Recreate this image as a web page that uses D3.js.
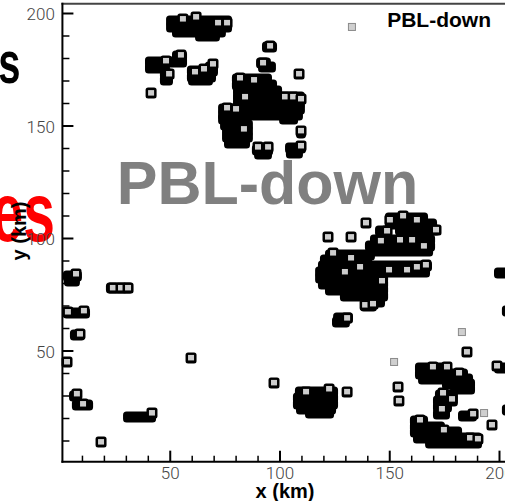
<!DOCTYPE html>
<html>
<head>
<meta charset="utf-8">
<script src="https://cdn.jsdelivr.net/npm/d3@7"></script>
<style>
  html, body { margin: 0; padding: 0; background: #fff; overflow: hidden; }
  svg { display: block; }
</style>
</head>
<body>
<svg id="chart" width="505" height="501"></svg>
<script>
// ---- data (km) -------------------------------------------------------
// Tick values
const xMajorTicks = [50, 100, 150, 200];
const yMajorTicks = [50, 100, 150, 200];
const minorTicks = [10, 20, 30, 40, 60, 70, 80, 90, 110, 120, 130, 140, 160, 170, 180, 190];

// Extent of the plotted domain box (km)
const frameX = [1.1, 206];
const frameY = [0.6, 204.1];

// Cloud-covered area, stored as horizontal runs: [y, xStart, xEnd]
const cloudSpans = [
  // north cluster near y = 195
  [196.4, 50.6, 76.1], [193.8, 50.6, 76.1], [191.6, 53.3, 73.3], [189.8, 63.8, 70.6],
  [180.9, 53.3, 55.6], [178.2, 41.0, 55.6], [175.6, 41.0, 47.8], [172.9, 47.8, 49.2], [170.2, 47.8, 49.2],
  [176.0, 68.3, 69.7], [174.2, 60.1, 69.7], [171.6, 60.1, 68.8], [170.2, 60.6, 67.4],
  [184.9, 94.3, 96.6], [177.8, 91.6, 93.8], [176.0, 92.5, 96.1],
  // central-north cluster
  [170.7, 80.6, 94.3], [168.0, 80.6, 96.6], [165.3, 81.1, 98.9],
  [162.7, 81.1, 109.3], [160.0, 81.1, 109.3], [157.3, 74.3, 109.3], [154.7, 74.3, 108.4],
  [152.9, 74.3, 84.3], [152.9, 102.1, 106.2],
  [150.2, 75.2, 85.6], [147.6, 76.1, 85.6], [144.9, 76.1, 85.6], [142.2, 77.0, 84.3],
  [139.1, 89.7, 94.8], [137.3, 90.7, 94.3],
  [146.7, 109.8, 109.8], [140.0, 104.8, 109.8], [137.8, 105.2, 108.4],
  // eastern cluster near y = 90
  [108.9, 150.3, 165.4], [106.2, 150.3, 169.5], [103.6, 154.9, 170.8],
  [103.1, 145.8, 149.0], [99.1, 143.5, 168.6], [96.4, 141.2, 168.6], [94.2, 142.6, 167.7],
  [92.4, 123.0, 141.2], [90.2, 120.7, 139.9],
  [87.6, 119.8, 167.2], [84.9, 118.5, 166.3], [82.2, 118.5, 147.2], [79.6, 119.8, 147.2],
  [76.9, 123.0, 147.2], [74.2, 129.8, 147.2], [71.6, 139.0, 145.8], [69.8, 139.0, 142.1],
  [64.4, 126.7, 131.2], [62.7, 126.2, 129.8],
  [84.4, 200.0, 202.7], [67.6, 203.6, 203.6],
  // south-east cluster
  [42.2, 164.0, 176.3], [39.6, 164.0, 183.6], [37.3, 165.4, 185.9], [35.1, 176.3, 186.8], [32.9, 180.0, 186.8],
  [42.2, 200.0, 202.7],
  [30.2, 173.1, 179.0], [27.6, 172.2, 179.0], [24.9, 172.2, 176.3], [21.8, 172.2, 175.4],
  [20.9, 183.6, 187.7], [23.6, 203.6, 203.6],
  [18.7, 161.7, 165.4], [16.0, 161.7, 173.1], [13.8, 161.7, 180.9], [11.1, 163.1, 190.0], [8.9, 168.6, 190.0],
  // southern cell near x = 115
  [31.6, 109.3, 124.4], [28.9, 108.4, 124.4], [26.2, 108.4, 124.4], [24.0, 109.8, 123.5], [22.2, 113.9, 122.6],
  // western edge
  [83.1, 3.6, 7.7], [80.9, 4.1, 6.8],
  [77.8, 23.2, 31.0],
  [66.7, 3.6, 11.4],
  [56.9, 6.8, 9.1],
  [29.8, 6.4, 7.7], [25.8, 7.7, 12.8],
  [20.4, 31.0, 41.5]
];

// Tracked cell centres (x, y in km)
const cellCentres = [
  [56.0, 197.3], [62.0, 198.2], [72.0, 195.6], [76.1, 195.6],
  [48.3, 178.7], [55.1, 181.3], [49.7, 172.9],
  [41.5, 164.4],
  [61.5, 173.8], [65.6, 175.1], [69.7, 177.3],
  [95.7, 185.3], [92.5, 177.8], [108.9, 172.9],
  [82.0, 171.1], [88.4, 170.2], [84.3, 162.7], [102.5, 162.7], [106.2, 162.7], [109.8, 161.8],
  [76.1, 157.8], [80.2, 157.3], [83.8, 148.4], [90.2, 140.4], [94.8, 140.4], [109.8, 147.6], [109.8, 140.9],
  [150.3, 108.0], [156.3, 109.8], [162.6, 108.0], [171.3, 103.6],
  [149.0, 103.1], [146.2, 98.7], [154.9, 99.1], [160.4, 99.1], [165.8, 96.4],
  [124.4, 93.3], [132.6, 91.1], [129.8, 84.9], [136.7, 87.1],
  [149.9, 85.8], [158.1, 85.8], [162.6, 87.1], [166.7, 88.0],
  [146.7, 80.9], [139.0, 70.2], [142.6, 70.7], [130.8, 64.4],
  [139.4, 106.7], [122.1, 100.4], [132.6, 100.4],
  [185.4, 49.3], [130.8, 31.6], [154.0, 33.8], [154.4, 27.6],
  [169.9, 42.7], [176.3, 42.7], [181.8, 40.0], [199.1, 43.1],
  [174.5, 31.1], [178.6, 28.4], [174.0, 24.0], [188.2, 21.8], [196.8, 16.9],
  [164.0, 19.1], [174.9, 14.7], [186.8, 11.1], [190.4, 10.7],
  [112.1, 31.6], [122.6, 32.9], [59.7, 46.7], [97.5, 35.6],
  [7.3, 84.0], [24.1, 77.8], [27.8, 77.8], [31.0, 77.8],
  [3.6, 67.1], [10.9, 67.6], [9.1, 57.3], [3.2, 44.9],
  [7.7, 30.7], [10.5, 26.2], [41.9, 22.2], [18.7, 9.3]
];

// Newly triggered cells (drawn pale)
const newCells = [[183.1, 58.2], [152.2, 44.9], [193.2, 22.2], [133.0, 193.8]];

// ---- scales ----------------------------------------------------------
const svg = d3.select("#chart");
const x = d3.scaleLinear().domain([0, 200]).range([60, 499]);
const y = d3.scaleLinear().domain([0, 200]).range([463, 13]);

const labelFont = "Roboto, 'Liberation Sans', Arial, sans-serif";
const boldFont = "'Liberation Sans', Arial, Helvetica, sans-serif";

svg.append("rect").attr("width", 505).attr("height", 501).attr("fill", "#fff");

// slide text running behind the figure
svg.append("text")
  .attr("transform", "translate(20.5,83) scale(1,1.5)")
  .attr("text-anchor", "end")
  .attr("font-family", boldFont).attr("font-weight", 700).attr("font-size", 40)
  .attr("fill", "#000").text("s");
svg.append("text")
  .attr("transform", "translate(55,241) scale(1,1.46)")
  .attr("text-anchor", "end")
  .attr("font-family", boldFont).attr("font-weight", 700).attr("font-size", 57)
  .attr("fill", "#ff0000").text("es");

// ---- cloud area ------------------------------------------------------
const plot = svg.append("g");
plot.selectAll("rect.span")
  .data(cloudSpans)
  .join("rect")
  .attr("class", "span")
  .attr("x", d => x(d[1]) - 5)
  .attr("width", d => x(d[2]) - x(d[1]) + 10)
  .attr("y", d => y(d[0]) - 5.5)
  .attr("height", 11)
  .attr("rx", 3.5)
  .attr("fill", "#000");

// tracked cells: black square with a grey core
const cells = plot.selectAll("g.cell")
  .data(cellCentres)
  .join("g")
  .attr("class", "cell")
  .attr("transform", d => `translate(${x(d[0])},${y(d[1])})`);
cells.append("rect")
  .attr("x", -5.5).attr("y", -5.5).attr("width", 11).attr("height", 11)
  .attr("rx", 2.5).attr("fill", "#000");
cells.append("rect")
  .attr("x", -3).attr("y", -3).attr("width", 6).attr("height", 5.5)
  .attr("fill", "#cdcdcd");

plot.selectAll("rect.new")
  .data(newCells)
  .join("rect")
  .attr("class", "new")
  .attr("x", d => x(d[0]) - 3.5)
  .attr("y", d => y(d[1]) - 3.5)
  .attr("width", 7).attr("height", 7)
  .attr("fill", "#cfcfcf")
  .attr("stroke", "#8a8a8a").attr("stroke-width", 1);

// ---- frame & axes ----------------------------------------------------
const fx0 = x(frameX[0]), fx1 = x(frameX[1]);
const fy0 = y(frameY[0]), fy1 = y(frameY[1]);

svg.append("line").attr("x1", fx0 - 1).attr("x2", fx1).attr("y1", fy1).attr("y2", fy1)
  .attr("stroke", "#444").attr("stroke-width", 2);

const yAxis = svg.append("g").attr("transform", `translate(${fx0},0)`)
  .call(d3.axisLeft(y).tickValues(yMajorTicks).tickSize(-11).tickPadding(7.5).tickSizeOuter(0));
const yMinor = svg.append("g").attr("transform", `translate(${fx0},0)`)
  .call(d3.axisLeft(y).tickValues(minorTicks).tickSize(-7).tickFormat("").tickSizeOuter(0));
const xAxis = svg.append("g").attr("transform", `translate(0,${fy0})`)
  .call(d3.axisBottom(x).tickValues(xMajorTicks).tickSize(-11).tickPadding(5.3).tickSizeOuter(0));
const xMinor = svg.append("g").attr("transform", `translate(0,${fy0})`)
  .call(d3.axisBottom(x).tickValues(minorTicks).tickSize(-6).tickFormat("").tickSizeOuter(0));

[yAxis, yMinor, xAxis, xMinor].forEach(g => {
  g.select(".domain").remove();
  g.selectAll(".tick line").attr("stroke", "#000");
});
[yAxis, xAxis].forEach(g => g.selectAll(".tick line").attr("stroke-width", 2));
[yMinor, xMinor].forEach(g => g.selectAll(".tick line").attr("stroke-width", 1.5));
[yAxis, xAxis].forEach(g => g.selectAll(".tick text")
  .attr("font-family", labelFont).attr("font-weight", 300)
  .attr("font-size", 17).attr("fill", "#444"));
yAxis.selectAll(".tick text").attr("dy", "0.4em");

svg.append("line").attr("x1", fx0).attr("x2", fx0).attr("y1", fy1 - 1).attr("y2", fy0 + 1)
  .attr("stroke", "#000").attr("stroke-width", 2);
svg.append("line").attr("x1", fx0 - 1).attr("x2", fx1).attr("y1", fy0).attr("y2", fy0)
  .attr("stroke", "#000").attr("stroke-width", 2);

// axis titles
svg.append("text")
  .attr("x", 285).attr("y", 498)
  .attr("text-anchor", "middle")
  .attr("font-family", boldFont).attr("font-weight", 700).attr("font-size", 20)
  .attr("fill", "#000").text("x (km)");
svg.append("text")
  .attr("transform", "translate(26,231) rotate(-90)")
  .attr("text-anchor", "middle")
  .attr("font-family", boldFont).attr("font-weight", 700).attr("font-size", 20)
  .attr("fill", "#000").text("y (km)");

// panel title and overlay label
svg.append("text")
  .attr("x", 491).attr("y", 27)
  .attr("text-anchor", "end")
  .attr("font-family", boldFont).attr("font-weight", 700).attr("font-size", 21)
  .attr("fill", "#000").text("PBL-down");
svg.append("text")
  .attr("x", 267.5).attr("y", 204)
  .attr("text-anchor", "middle")
  .attr("font-family", boldFont).attr("font-weight", 700).attr("font-size", 61)
  .attr("fill", "#808080").text("PBL-down");
</script>
</body>
</html>
